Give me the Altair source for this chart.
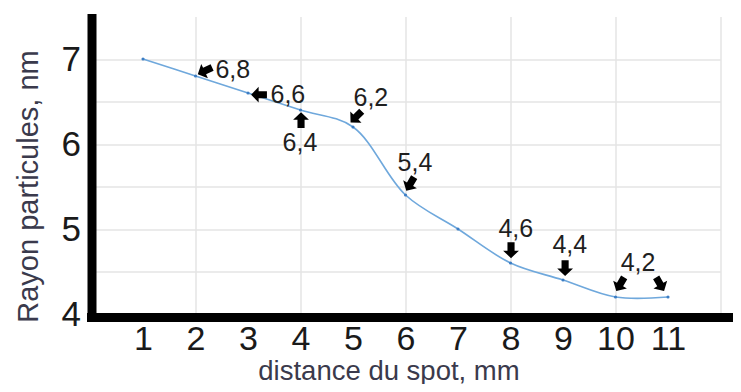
import altair as alt
import pandas as pd

# ---- data ----
distance = [1, 2, 3, 4, 5, 6, 7, 8, 9, 10, 11]
rayon = [7.0, 6.8, 6.6, 6.4, 6.2, 5.4, 5.0, 4.6, 4.4, 4.2, 4.2]

label_text = ["6,8", "6,6", "6,4", "6,2", "5,4", "4,6", "4,4", "4,2"]
label_x = [2.71, 3.76, 3.99, 5.34, 6.18, 8.10, 9.13, 10.43]
label_y = [6.87, 6.58, 6.01, 6.54, 5.78, 5.00, 4.81, 4.60]

arrow_x = [2.18, 3.21, 4.01, 5.06, 6.09, 8.01, 9.04, 10.09, 10.85]
arrow_y = [6.86, 6.58, 6.28, 6.32, 5.53, 4.75, 4.54, 4.35, 4.35]
arrow_angle = [245, 270, 0, 225, 210, 180, 180, 210, 150]

x_ticks = [1, 2, 3, 4, 5, 6, 7, 8, 9, 10, 11, 12]
y_ticks = [4, 4.5, 5, 5.5, 6, 6.5, 7]

FONT = "Liberation Sans"
W, H = 630, 297.5

df = pd.DataFrame({"x": distance, "y": rayon})
df_lab = pd.DataFrame({"x": label_x, "y": label_y, "t": label_text})
df_arr = pd.DataFrame({"x": arrow_x, "y": arrow_y, "a": arrow_angle})

x_scale = alt.Scale(domain=[0, 12], nice=False, zero=False)
y_scale = alt.Scale(domain=[4, 7.5], nice=False, zero=False)

x_axis = alt.Axis(
    values=x_ticks,
    title="distance du spot, mm",
    labelExpr="datum.value <= 11 ? format(datum.value, 'd') : ''",
    ticks=False, domain=False,
    labelFont=FONT, labelFontSize=34, labelColor="#1a1a1a", labelPadding=8,
    labelFlush=False, labelOverlap=False,
    grid=True, gridColor="#e4e4e4", gridWidth=1.5,
    gridOpacity={"condition": {"test": "datum.value % 2 === 0", "value": 1}, "value": 0},
    titleFont=FONT, titleFontSize=27.5, titleFontWeight="normal", titleColor="#3a3a4c",
    titleX=298, titleY=65, titleBaseline="alphabetic", titleAlign="center",
)
y_axis = alt.Axis(
    values=y_ticks,
    title="Rayon particules, nm",
    labelExpr="datum.value % 1 === 0 ? format(datum.value, 'd') : ''",
    ticks=False, domain=False,
    labelFont=FONT, labelFontSize=35, labelColor="#1a1a1a", labelPadding=10,
    labelFlush=False, labelOverlap=False,
    grid=True, gridColor="#e4e4e4", gridWidth=1.5,
    titleFont=FONT, titleFontSize=29, titleFontWeight="normal", titleColor="#3a3a4c",
    titleX=-62.5, titleY=169.5, titleBaseline="middle", titleAlign="center",
)

line = alt.Chart(df).mark_line(
    interpolate="catmull-rom", color="#6fa8dc", strokeWidth=1.6
).encode(
    x=alt.X("x:Q", scale=x_scale, axis=x_axis),
    y=alt.Y("y:Q", scale=y_scale, axis=y_axis),
)

pts = alt.Chart(df).mark_point(
    filled=True, size=10, color="#3c7dc4", opacity=1
).encode(x="x:Q", y="y:Q")

ARROW = "M0,-1L1,-0.05L0.45,-0.05L0.45,1L-0.45,1L-0.45,-0.05L-1,-0.05Z"
arrows = alt.Chart(df_arr).mark_point(
    shape=ARROW, filled=True, color="black", opacity=1, size=250
).encode(x="x:Q", y="y:Q", angle=alt.Angle("a:Q", scale=None))

labels = alt.Chart(df_lab).mark_text(
    font=FONT, fontSize=25, color="#1f1f1f"
).encode(x="x:Q", y="y:Q", text="t:N")

axis_src = pd.DataFrame({"k": [0]})
y_line = alt.Chart(axis_src).mark_rule(color="black", strokeWidth=9).encode(
    x=alt.value(1.5), y=alt.value(-2.5), y2=alt.value(303.5)
)
x_line = alt.Chart(axis_src).mark_rule(color="black", strokeWidth=9).encode(
    y=alt.value(301), x=alt.value(-3.5), x2=alt.value(650.5)
)

chart = alt.layer(line, pts, arrows, labels, y_line, x_line).properties(
    width=W, height=H,
    autosize=alt.AutoSizeParams(type="none"),
    padding={"left": 82.5, "top": 8.5, "right": 12.5, "bottom": 70},
    background="white",
).configure_view(stroke=None)

chart.save("out.html", embed_options={"renderer": "svg", "actions": False})
